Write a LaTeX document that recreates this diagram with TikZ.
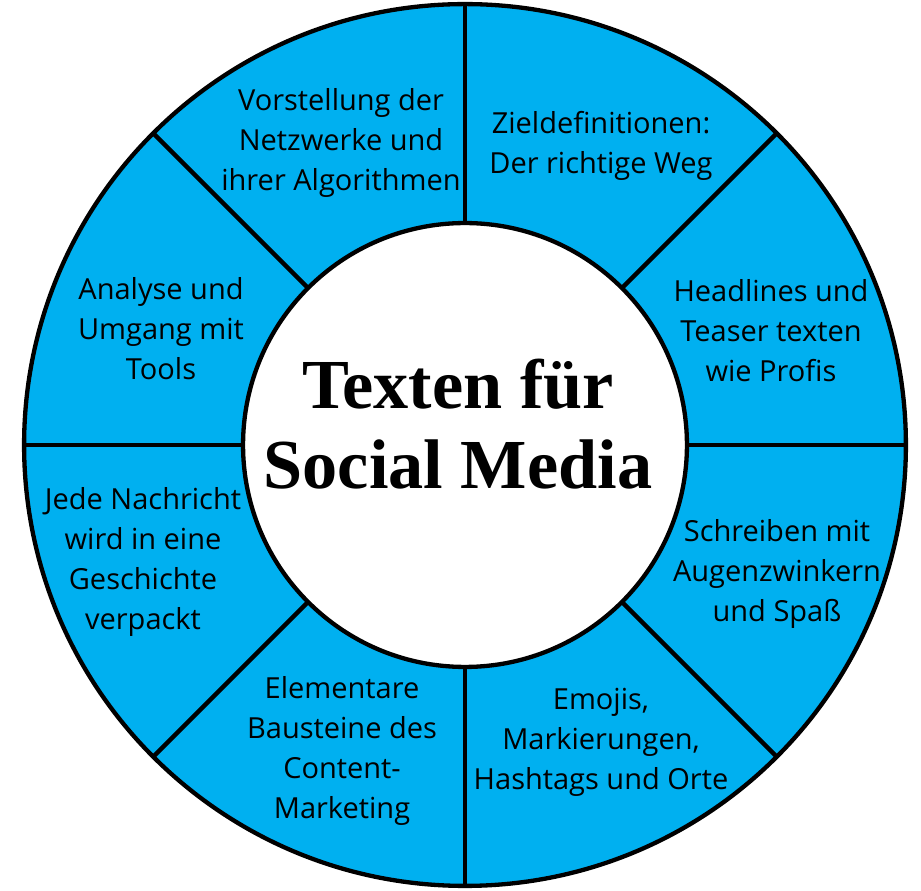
\documentclass[tikz,border=0pt]{standalone}
\usepackage{fontspec}
\setmainfont{Open Sans}
\newfontfamily\titlefont{Liberation Serif}
\usetikzlibrary{calc}
\definecolor{ringblue}{RGB}{0,176,240}

\begin{document}
\begin{tikzpicture}[x=0.02cm,y=-0.02cm,
    rim/.style={line width=2.45pt},
    topic/.style={align=center,font=\fontsize{16.5}{22.7}\selectfont},
    headline/.style={align=center,font=\titlefont\bfseries\fontsize{40}{45.5}\selectfont}]
  \useasboundingbox (0,0) rectangle (921,891);
  \coordinate (M) at (465,445);

  % ring
  \fill[ringblue] (M) circle[radius=8.82cm];
  \draw[rim] (M) circle[radius=8.82cm];
  \draw[rim,fill=white] (M) circle[radius=4.44cm];
  \foreach \a in {0,45,...,315}
    \draw[rim] ($(M)+(\a:222)$) -- ($(M)+(\a:441)$);

  \node[headline] (title) at (458,424) {Texten für\\Social Media};

  \node[topic] (netz) at (341,143) {Vorstellung der\\Netzwerke und\\ihrer Algorithmen};
  \node[topic] (ziel) at (601,146) {Zieldefinitionen:\\Der richtige Weg};
  \node[topic] (head) at (771,331) {Headlines und\\Teaser texten\\wie Profis};
  \node[topic] (spass) at (777,574) {Schreiben mit\\Augenzwinkern\\und Spaß};
  \node[topic] (emoji) at (601,742) {Emojis,\\Markierungen,\\Hashtags und Orte};
  \node[topic] (baust) at (342,751) {Elementare\\Bausteine des\\Content-\\Marketing};
  \node[topic] (gesch) at (143,562) {Jede Nachricht\\wird in eine\\Geschichte\\verpackt};
  \node[topic] (tools) at (161,329) {Analyse und\\Umgang mit\\Tools};
\end{tikzpicture}
\end{document}
